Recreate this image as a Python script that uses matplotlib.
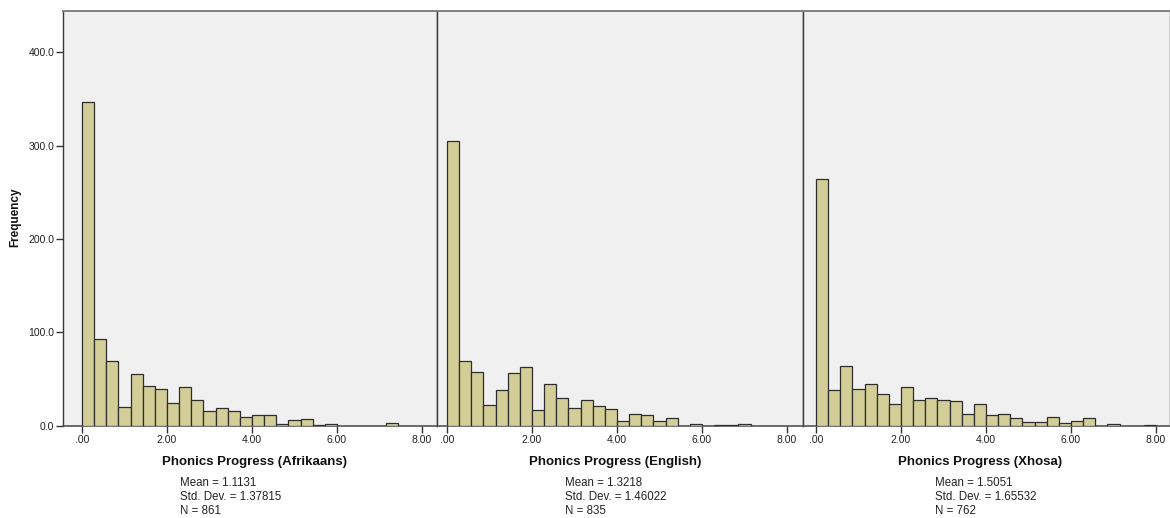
import numpy as np
import matplotlib
matplotlib.use("Agg")
import matplotlib.pyplot as plt

plt.rcParams['font.family'] = ['Liberation Sans', 'DejaVu Sans']

# Histogram counts per bin (28 equal bins spanning 0 to 8)
bin_lo, bin_hi, n_bins = 0.0, 8.0, 28
afrikaans_counts = [347, 93, 69, 20, 55, 43, 39, 24, 41, 27, 16, 19, 16, 9,
                    11, 11, 2, 6, 7, 1, 2, 0, 0, 0, 0, 3, 0, 0]
english_counts = [305, 69, 57, 22, 38, 56, 63, 17, 45, 30, 19, 27, 21, 18,
                  5, 13, 11, 5, 8, 0, 2, 0, 1, 1, 2, 0, 0, 0]
xhosa_counts = [264, 38, 64, 39, 45, 34, 23, 41, 28, 30, 27, 26, 12, 23,
                11, 13, 8, 4, 4, 9, 3, 5, 8, 0, 2, 0, 0, 1]

panel_titles = ["Phonics Progress (Afrikaans)", "Phonics Progress (English)",
                "Phonics Progress (Xhosa)"]
panel_means = ["1.1131", "1.3218", "1.5051"]
panel_sds = ["1.37815", "1.46022", "1.65532"]
panel_ns = ["861", "835", "762"]

x_ticks = [0, 2, 4, 6, 8]
x_tick_labels = [".00", "2.00", "4.00", "6.00", "8.00"]
y_ticks = [0, 100, 200, 300, 400]
y_tick_labels = ["0.0", "100.0", "200.0", "300.0", "400.0"]

W, H = 1170, 518
fig = plt.figure(figsize=(W / 100, H / 100), dpi=100)
fig.patch.set_facecolor("white")

# panel frames in pixels: (left, right), and x-limits
frames = [(62.7, 437.0), (437.0, 802.7), (802.7, 1170.0)]
zero_px = [82.0, 447.0, 816.0]
px_per_unit = 42.5
top_px, base_px = 10.7, 425.7
y_top = (base_px - top_px) / 0.934

face = "#d3ce97"
edge = "#2e2e2e"
bg = "#f0f0f0"

edges = np.linspace(bin_lo, bin_hi, n_bins + 1)
width = edges[1] - edges[0]

all_counts = [afrikaans_counts, english_counts, xhosa_counts]
label_cx = [255, 615, 980]
stats_x = [180, 565, 935]

for i, counts in enumerate(all_counts):
    l, r = frames[i]
    ax = fig.add_axes([l / W, 1 - base_px / H, (r - l) / W, (base_px - top_px) / H])
    ax.set_facecolor(bg)
    counts = np.asarray(counts)
    nz = counts > 0
    ax.bar(edges[:-1][nz], counts[nz], width=width, align="edge",
           color=face, edgecolor=edge, linewidth=0.9, zorder=3)
    ax.set_xlim((l - zero_px[i]) / px_per_unit, (r - zero_px[i]) / px_per_unit)
    ax.set_ylim(0, y_top)
    ax.set_xticks(x_ticks)
    ax.set_xticklabels(x_tick_labels, fontsize=7.5, color="#222222")
    ax.tick_params(axis="x", direction="out", length=5, width=1, color="#333333", pad=2)
    if i == 0:
        ax.set_yticks(y_ticks)
        ax.set_yticklabels(y_tick_labels, fontsize=7.5, color="#222222")
        ax.tick_params(axis="y", direction="out", length=5, width=1, color="#333333", pad=1)
    else:
        ax.set_yticks([])
    for s in ["left", "right"]:
        ax.spines[s].set_color("#3a3a3a")
        ax.spines[s].set_linewidth(1.0)
    ax.spines["top"].set_color("#808080")
    ax.spines["top"].set_linewidth(1.4)
    ax.spines["bottom"].set_color("#555555")
    ax.spines["bottom"].set_linewidth(1.2)

    fig.text(label_cx[i] / W, 1 - 462 / H, panel_titles[i], ha="center",
             va="center", fontsize=9.5, fontweight="bold", color="#111111")
    stats = [f"Mean = {panel_means[i]}", f"Std. Dev. = {panel_sds[i]}",
             f"N = {panel_ns[i]}"]
    for k, line in enumerate(stats):
        fig.text(stats_x[i] / W, 1 - (483 + 14 * k) / H, line, ha="left",
                 va="center", fontsize=8.3, color="#222222")

fig.text(15 / W, 1 - 217 / H, "Frequency", rotation=90, ha="center",
         va="center", fontsize=8.5, fontweight="bold", color="#111111")

fig.savefig("out.png", dpi=100)
